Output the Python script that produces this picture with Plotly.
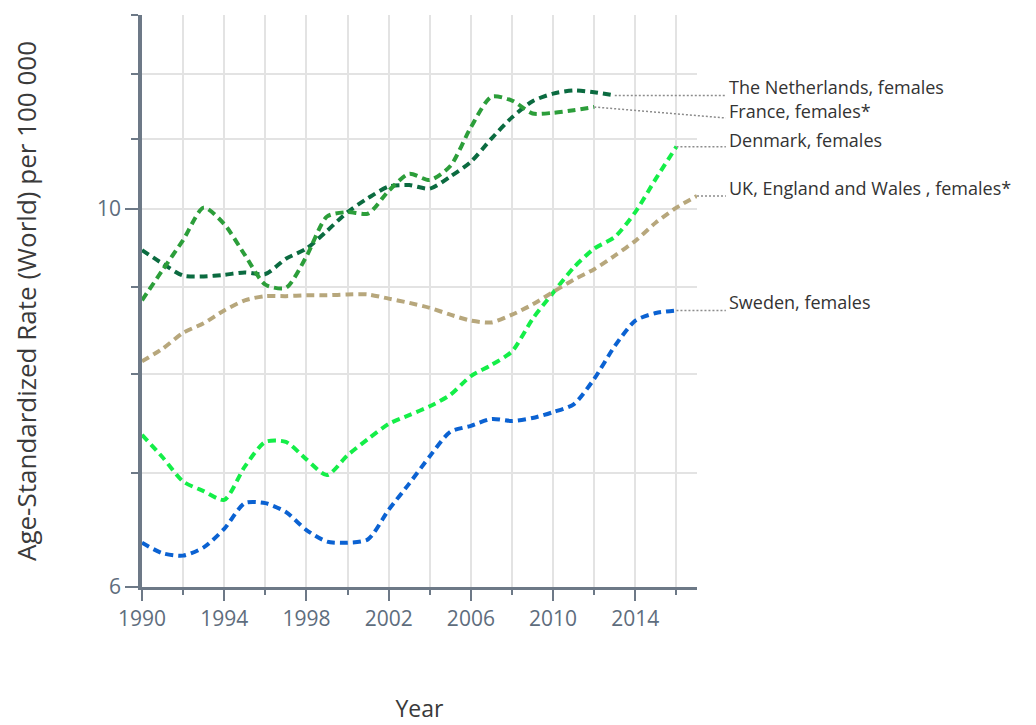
import math
import plotly.graph_objects as go

# ---------------- data ----------------
years_nl = list(range(1990, 2014))
netherlands = [9.46, 9.29, 9.14, 9.13, 9.15, 9.18, 9.16, 9.35, 9.48, 9.71, 9.96, 10.15,
               10.31, 10.33, 10.28, 10.45, 10.66, 11.00, 11.32, 11.57, 11.69, 11.74, 11.71, 11.66]

years_fr = list(range(1990, 2013))
france = [8.84, 9.21, 9.59, 10.02, 9.80, 9.40, 9.03, 8.99, 9.38, 9.90, 9.96, 9.94,
          10.25, 10.49, 10.40, 10.60, 11.17, 11.64, 11.58, 11.38, 11.39, 11.43, 11.48]

years_dk = list(range(1990, 2017))
denmark = [7.37, 7.15, 6.92, 6.83, 6.75, 7.06, 7.30, 7.30, 7.13, 6.98, 7.17, 7.33,
           7.48, 7.57, 7.66, 7.78, 7.98, 8.10, 8.25, 8.62, 8.93, 9.24, 9.48, 9.63,
           9.96, 10.42, 10.88]

years_uk = list(range(1990, 2018))
uk = [8.14, 8.28, 8.46, 8.57, 8.72, 8.84, 8.89, 8.89, 8.90, 8.90, 8.91, 8.91,
      8.86, 8.81, 8.75, 8.67, 8.60, 8.58, 8.67, 8.79, 8.94, 9.09, 9.22, 9.39,
      9.58, 9.82, 10.02, 10.18]

years_se = list(range(1990, 2017))
sweden = [6.37, 6.28, 6.26, 6.33, 6.49, 6.72, 6.72, 6.64, 6.48, 6.38, 6.37, 6.40,
          6.66, 6.90, 7.16, 7.40, 7.46, 7.53, 7.51, 7.54, 7.60, 7.68, 7.95, 8.31,
          8.60, 8.69, 8.72]

labels = ["The Netherlands, females", "France, females*", "Denmark, females",
          "UK, England and Wales , females*", "Sweden, females"]
label_values = [11.66, 11.31, 10.88, 10.18, 8.72]   # where each connector ends

x_ticks = [1990, 1994, 1998, 2002, 2006, 2010, 2014]
x_minor = [1992, 1996, 2000, 2004, 2008, 2012, 2016]
y_ticks = [6, 10]
y_minor = [7, 8, 9, 11, 12, 13]

# ---------------- styling ----------------
colors = ["#0b6b40", "#2c9e3a", "#14ee48", "#b7a77c", "#0b62d2"]
series = [(years_nl, netherlands), (years_fr, france), (years_dk, denmark),
          (years_uk, uk), (years_se, sweden)]

X_RANGE = [1990, 2017]
Y_RANGE = [6, 13]
AXIS_COL = "#6d7987"
FONT = "Open Sans"

fig = go.Figure()
for (xs, ys), col, name in zip(series, colors, labels):
    fig.add_trace(go.Scatter(
        x=xs, y=ys, mode="lines", name=name,
        line=dict(color=col, width=4, dash="8px,5px", shape="spline", smoothing=0.7),
        showlegend=False, hoverinfo="x+y+name"))

def xp(v):
    return (v - X_RANGE[0]) / (X_RANGE[1] - X_RANGE[0])

def yp(v):
    return (math.log10(v) - math.log10(Y_RANGE[0])) / (math.log10(Y_RANGE[1]) - math.log10(Y_RANGE[0]))

label_x = 1.054
label_shift = [8, 7, 7, 8, 8]
shapes = []
annotations = []
for (xs, ys), name, lv, sh in zip(series, labels, label_values, label_shift):
    shapes.append(dict(type="line", xref="paper", yref="paper",
                       x0=xp(xs[-1]), y0=yp(ys[-1]), x1=label_x - 0.002, y1=yp(lv),
                       line=dict(color="#8c8c8c", width=1.5, dash="2px,2px")))
    annotations.append(dict(text=name, xref="paper", yref="paper", x=label_x, y=yp(lv),
                            xanchor="left", yanchor="middle", yshift=sh, showarrow=False,
                            font=dict(family=FONT, size=18, color="#333333")))

annotations.append(dict(text="Loess smoothers (bandwidth 0.25)", xref="paper", yref="paper",
                        x=0.056, y=-0.229, xanchor="right", yanchor="top", showarrow=False,
                        font=dict(family=FONT, size=16, color="#555555")))

fig.update_layout(
    width=1036, height=725,
    margin=dict(l=134, r=347, t=7, b=145.5, pad=0),
    paper_bgcolor="white", plot_bgcolor="white",
    font=dict(family=FONT, color="#333333"),
    shapes=shapes, annotations=annotations,
    xaxis=dict(range=X_RANGE, tickvals=x_ticks, ticks="outside", ticklen=11, tickwidth=1.5,
               tickcolor=AXIS_COL, showline=True, linecolor=AXIS_COL, linewidth=2.5,
               showgrid=True, gridcolor="#e3e3e3", gridwidth=1.5, zeroline=False,
               tickfont=dict(family=FONT, size=21, color="#5e6d7d"),
               minor=dict(tickvals=x_minor, ticks="outside", ticklen=5, tickwidth=1.5,
                          tickcolor=AXIS_COL, showgrid=True, gridcolor="#e3e3e3", gridwidth=1.5),
               title=dict(text="Year", font=dict(family=FONT, size=23, color="#3a3a3a"), standoff=70)),
    yaxis=dict(type="log", range=[math.log10(Y_RANGE[0]), math.log10(Y_RANGE[1])],
               tickvals=y_ticks, ticktext=[str(v) for v in y_ticks], ticks="outside", ticklen=13,
               tickwidth=1.5, tickcolor=AXIS_COL, showline=True, linecolor=AXIS_COL, linewidth=3.5,
               showgrid=True, gridcolor="#e3e3e3", gridwidth=1.5, zeroline=False,
               tickfont=dict(family=FONT, size=21, color="#5e6d7d"),
               minor=dict(tickvals=y_minor, ticks="outside", ticklen=7, tickwidth=1.5,
                          tickcolor=AXIS_COL, showgrid=True, gridcolor="#e3e3e3", gridwidth=1.5),
               title=dict(text="Age-Standardized Rate (World) per 100 000",
                          font=dict(family=FONT, size=26, color="#3a3a3a"), standoff=65)),
)

fig.write_html("out.html")
